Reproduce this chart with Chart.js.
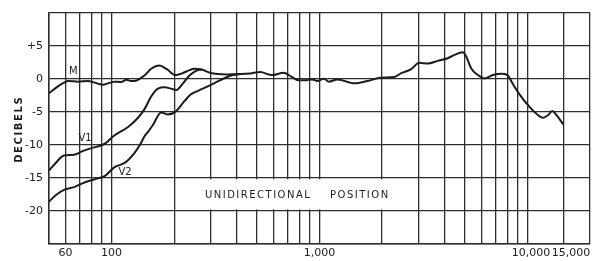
<!DOCTYPE html>
<html>
<head>
<meta charset="utf-8">
<title>Unidirectional position response</title>
<script src="https://cdn.jsdelivr.net/npm/chart.js@4.4.1/dist/chart.umd.min.js"></script>
<style>
    html, body { margin: 0; padding: 0; background: #fff; }
    #wrap { width: 599px; height: 261px; }
</style>
</head>
<body>
<div id="wrap"><canvas id="responseChart" width="599" height="261"></canvas></div>
<script>
// Curve M (Hz / dB)
const freqM = [50, 55, 59, 62, 69, 77, 91, 103, 111, 118, 124, 131, 144, 155, 170, 185, 203, 218, 237, 250,
    271, 297, 358, 415, 464, 519, 591, 672, 725, 795, 856, 922, 975, 1050, 1110, 1220, 1470, 1700, 1970, 2290,
    2460, 2750, 3020, 3320, 3700, 4140, 4460, 4890, 5070, 5360, 5780, 6220, 6830, 7490, 8010, 8530, 9180, 10260,
    11050, 11900, 12590, 13160, 13800, 14870];
const dbM = [-2.2, -1.2, -0.6, -0.35, -0.45, -0.35, -0.9, -0.45, -0.5, -0.15, -0.35, -0.3, 0.5, 1.5, 2.0, 1.4, 0.55, 0.8, 1.3, 1.5,
    1.4, 0.9, 0.65, 0.7, 0.8, 1.0, 0.55, 0.9, 0.4, -0.25, -0.25, -0.1, -0.35, 0, -0.45, -0.1, -0.7, -0.35, 0.15, 0.25,
    0.8, 1.4, 2.4, 2.3, 2.7, 3.1, 3.6, 4.0, 3.4, 1.6, 0.55, 0.05, 0.55, 0.75, 0.55, -0.85, -2.4, -4.3,
    -5.3, -5.9, -5.5, -4.9, -5.5, -6.9];

// Curve V1
const freqV1 = [50, 54, 59, 66, 72, 80, 89, 94, 103, 120, 134, 144, 155, 167, 180, 193, 205, 220, 237, 255, 271];
const dbV1 = [-13.9, -12.7, -11.6, -11.5, -11.0, -10.5, -10.1, -9.7, -8.6, -7.3, -5.9, -4.6, -2.7, -1.5, -1.3, -1.5, -1.7, -0.75, 0.5, 1.2, 1.4];

// Curve V2
const freqV2 = [50, 54, 59, 66, 74, 83, 93, 103, 116, 129, 137, 144, 150, 158, 173, 186, 201, 224, 240, 262, 297, 332, 372, 415];
const dbV2 = [-18.6, -17.6, -16.8, -16.4, -15.7, -15.2, -14.7, -13.4, -12.7, -11.2, -10, -8.7, -8.0, -7.0, -5.1, -5.4, -5.1, -3.4, -2.4, -1.8, -1.0, -0.25, 0.45, 0.7];

// axis ticks
const gridFreqs = [50, 60, 70, 80, 90, 100, 200, 300, 400, 500, 600, 700, 800, 900, 1000,
    2000, 3000, 4000, 5000, 6000, 7000, 8000, 9000, 10000, 15000, 20000];
const labeledFreqs = [60, 100, 1000, 10000, 15000];
const freqText = ['60', '100', '1,000', '  10,000', '    15,000'];
const labeledDbs = [5, 0, -5, -10, -15, -20];
const dbText = ['+5', '0', '-5', '-10', '-15', '-20'];

const ink = '#1c1c1c';
const gridInk = '#2e2e2e';

// text written on the plot
const notes = [
    { text: 'M', freq: 65.5, db: 1.05 },
    { text: 'V1', freq: 74.5, db: -9.1 },
    { text: 'V2', freq: 116, db: -14.2 }
];

const toPoints = (xs, ys) => xs.map((x, i) => ({ x: x, y: ys[i] }));

const curve = (label, xs, ys) => ({
    label: label,
    data: toPoints(xs, ys),
    borderColor: ink,
    borderWidth: 2,
    pointRadius: 0,
    fill: false,
    cubicInterpolationMode: 'monotone'
});

const annotations = {
    id: 'annotations',
    beforeDatasetsDraw(chart) {
        // blank band behind the caption
        const { ctx, scales: { x, y } } = chart;
        const x0 = x.getPixelForValue(230), x1 = x.getPixelForValue(2600);
        const y0 = y.getPixelForValue(-15) + 1.5, y1 = y.getPixelForValue(-20) - 1.5;
        ctx.save();
        ctx.fillStyle = '#fff';
        ctx.fillRect(x0, y0, x1 - x0, y1 - y0);
        ctx.restore();
    },
    afterDatasetsDraw(chart) {
        const { ctx, chartArea, scales: { x, y } } = chart;
        ctx.save();
        ctx.fillStyle = ink;
        ctx.textAlign = 'center';
        ctx.textBaseline = 'middle';
        ctx.font = '10px "DejaVu Sans"';
        notes.forEach(n => {
            ctx.fillText(n.text, x.getPixelForValue(n.freq), y.getPixelForValue(n.db));
        });

        ctx.letterSpacing = '1.5px';
        ctx.textAlign = 'left';
        ctx.font = '10px "DejaVu Sans"';
        ctx.fillText('UNIDIRECTIONAL    POSITION', x.getPixelForValue(281), y.getPixelForValue(-17.7));

        // y axis title
        ctx.translate(19, (chartArea.top + chartArea.bottom) / 2 + 1);
        ctx.rotate(-Math.PI / 2);
        ctx.textAlign = 'center';
        ctx.font = 'bold 10px "DejaVu Sans"';
        ctx.letterSpacing = '1.6px';
        ctx.fillText('DECIBELS', 0, 0);
        ctx.restore();
    }
};

const ctx = document.getElementById('responseChart').getContext('2d');
new Chart(ctx, {
    type: 'line',
    data: {
        datasets: [
            curve('M', freqM, dbM),
            curve('V1', freqV1, dbV1),
            curve('V2', freqV2, dbV2)
        ]
    },
    options: {
        responsive: false,
        animation: false,
        layout: { padding: { top: 8, right: 9, left: 0, bottom: 0 } },
        plugins: {
            legend: { display: false },
            tooltip: { enabled: false }
        },
        scales: {
            x: {
                type: 'logarithmic',
                min: 50,
                max: 20000,
                afterBuildTicks: scale => {
                    scale.ticks = gridFreqs.map(v => ({ value: v }));
                },
                afterFit: scale => { scale.height = 17; },
                ticks: {
                    autoSkip: false,
                    maxRotation: 0,
                    padding: 3,
                    color: ink,
                    font: { family: 'DejaVu Sans', size: 11 },
                    callback: value => {
                        const i = labeledFreqs.indexOf(value);
                        return i >= 0 ? freqText[i] : '';
                    }
                },
                grid: { color: gridInk, lineWidth: 1.3, drawTicks: false },
                border: { color: gridInk, width: 1.5 }
            },
            y: {
                min: -25,
                max: 10,
                afterFit: scale => { scale.width = 49; },
                ticks: {
                    stepSize: 5,
                    padding: 6,
                    color: ink,
                    font: { family: 'DejaVu Sans', size: 11 },
                    callback: value => {
                        const i = labeledDbs.indexOf(value);
                        return i >= 0 ? dbText[i] : '';
                    }
                },
                grid: { color: gridInk, lineWidth: 1.3, drawTicks: false },
                border: { color: gridInk, width: 1.5 }
            }
        }
    },
    plugins: [annotations]
});
</script>
</body>
</html>
